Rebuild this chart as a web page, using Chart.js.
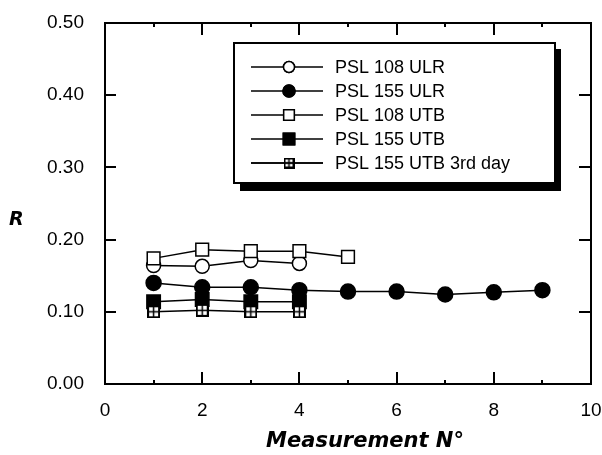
<!DOCTYPE html>
<html>
<head>
<meta charset="utf-8">
<script src="https://cdn.jsdelivr.net/npm/chart.js@4"></script>
<style>
  html, body { margin: 0; padding: 0; background: #fff; }
  #wrap { width: 602px; height: 455px; }
</style>
</head>
<body>
<div id="wrap"><canvas id="rChart" width="602" height="455"></canvas></div>
<script>
// measurement numbers for each series
const runs4 = [1, 2, 3, 4];
const runs5 = [1, 2, 3, 4, 5];
const runs9 = [1, 2, 3, 4, 5, 6, 7, 8, 9];

// R values
const ulr108 = [0.164, 0.163, 0.171, 0.167];
const ulr155 = [0.140, 0.134, 0.134, 0.130, 0.128, 0.128, 0.124, 0.127, 0.130];
const utb108 = [0.174, 0.186, 0.184, 0.184, 0.176];
const utb155 = [0.114, 0.117, 0.114, 0.114];
const utb155day3 = [0.100, 0.102, 0.100, 0.100];

const seriesLabels = ['PSL 108 ULR', 'PSL 155 ULR', 'PSL 108 UTB', 'PSL 155 UTB', 'PSL 155 UTB 3rd day'];
const xTicks = [0, 2, 4, 6, 8, 10];
const yTicks = [0, 0.1, 0.2, 0.3, 0.4, 0.5];
const xTitle = 'Measurement N°';
const yTitle = 'R';

const FONT = '"Liberation Sans", Arial, sans-serif';
const TITLE_FONT = '"DejaVu Sans", sans-serif';

function crossSquare(size) {
  const c = document.createElement('canvas');
  c.width = size; c.height = size;
  const g = c.getContext('2d');
  g.fillStyle = '#fff';
  g.fillRect(0, 0, size, size);
  g.strokeStyle = '#000';
  g.lineWidth = 2;
  g.strokeRect(1, 1, size - 2, size - 2);
  g.lineWidth = 1.5;
  g.beginPath();
  g.moveTo(size / 2, 0); g.lineTo(size / 2, size);
  g.moveTo(0, size / 2); g.lineTo(size, size / 2);
  g.stroke();
  return c;
}

function pts(xs, ys) {
  return xs.map((x, i) => ({ x: x, y: ys[i] }));
}

function series(i, xs, ys, style, fill, radius) {
  return {
    label: seriesLabels[i],
    data: pts(xs, ys),
    showLine: true,
    borderColor: '#000',
    borderWidth: 1.5,
    pointStyle: style,
    pointRadius: radius,
    pointBorderWidth: 1.5,
    pointBorderColor: '#000',
    pointBackgroundColor: fill,
    order: 5 - i,
  };
}

const legendMarks = [
  { style: 'circle', fill: '#fff', r: 5.5 },
  { style: 'circle', fill: '#000', r: 6 },
  { style: 'rect', fill: '#fff', r: 7.5 },
  { style: 'rect', fill: '#000', r: 8 },
  { style: crossSquare(11), fill: '#fff', r: 6 },
];

const framePlugin = {
  id: 'frame',
  afterDraw(chart) {
    const ctx = chart.ctx;
    const a = chart.chartArea;
    const xs = chart.scales.x;
    const ys = chart.scales.y;
    ctx.save();
    ctx.strokeStyle = '#000';
    ctx.lineWidth = 2;
    ctx.strokeRect(a.left, a.top, a.right - a.left, a.bottom - a.top);

    // inward ticks
    ctx.beginPath();
    xs.ticks.forEach((t) => {
      const px = Math.round(xs.getPixelForValue(t.value));
      const len = t.value % 2 === 0 ? 12 : 4;
      ctx.moveTo(px, a.bottom); ctx.lineTo(px, a.bottom - len);
      ctx.moveTo(px, a.top); ctx.lineTo(px, a.top + len);
    });
    ys.ticks.forEach((t) => {
      const py = Math.round(ys.getPixelForValue(t.value));
      ctx.moveTo(a.left, py); ctx.lineTo(a.left + 11, py);
      ctx.moveTo(a.right, py); ctx.lineTo(a.right - 12, py);
    });
    ctx.stroke();

    // axis titles
    ctx.fillStyle = '#000';
    ctx.textBaseline = 'alphabetic';
    ctx.textAlign = 'left';
    ctx.font = 'italic bold 19px ' + TITLE_FONT;
    ctx.fillText(yTitle, 9, 225);
    ctx.textAlign = 'center';
    ctx.font = 'italic bold 21px ' + TITLE_FONT;
    ctx.fillText(xTitle, 365, 447);

    // legend box with shadow
    const bx = 234, by = 43, bw = 321, bh = 140;
    ctx.fillStyle = '#000';
    ctx.fillRect(bx + 6, by + 6, bw, bh + 2);
    ctx.fillStyle = '#fff';
    ctx.fillRect(bx, by, bw, bh);
    ctx.lineWidth = 2;
    ctx.strokeRect(bx, by, bw, bh);

    ctx.font = '18px ' + FONT;
    ctx.textAlign = 'left';
    ctx.textBaseline = 'middle';
    chart.data.datasets.forEach((ds, i) => {
      const y = 67 + i * 24;
      ctx.lineWidth = 1.5;
      ctx.strokeStyle = '#000';
      ctx.beginPath();
      ctx.moveTo(251, y); ctx.lineTo(323, y);
      ctx.stroke();
      const m = legendMarks[i];
      ctx.fillStyle = m.fill;
      Chart.helpers.drawPoint(ctx, { pointStyle: m.style, radius: m.r, borderWidth: 1.5, rotation: 0 }, 289, y);
      ctx.fill();
      ctx.stroke();
      ctx.fillStyle = '#000';
      ctx.fillText(ds.label, 335, y + 1);
    });
    ctx.restore();
  },
};

new Chart(document.getElementById('rChart'), {
  type: 'scatter',
  data: {
    datasets: [
      series(0, runs4, ulr108, 'circle', '#fff', 7),
      series(1, runs9, ulr155, 'circle', '#000', 7.5),
      series(2, runs5, utb108, 'rect', '#fff', 9),
      series(3, runs4, utb155, 'rect', '#000', 9.5),
      series(4, runs4, utb155day3, crossSquare(13), '#fff', 7),
    ],
  },
  options: {
    responsive: false,
    animation: false,
    layout: { padding: { left: 0, top: 23, right: 10, bottom: 0 } },
    plugins: { legend: { display: false }, tooltip: { enabled: false } },
    scales: {
      x: {
        type: 'linear',
        min: xTicks[0],
        max: xTicks[xTicks.length - 1],
        grid: { display: false, drawTicks: false },
        border: { display: false },
        ticks: {
          stepSize: 1,
          autoSkip: false,
          maxRotation: 0,
          padding: 15,
          color: '#000',
          font: { family: FONT, size: 19 },
          callback: (v) => (xTicks.includes(v) ? String(v) : ''),
        },
        afterFit: (s) => { s.height = 71; s.paddingLeft = 0; s.paddingRight = 0; },
      },
      y: {
        min: yTicks[0],
        max: yTicks[yTicks.length - 1],
        grid: { display: false, drawTicks: false },
        border: { display: false },
        ticks: {
          stepSize: 0.1,
          padding: 21,
          color: '#000',
          font: { family: FONT, size: 19 },
          callback: (v) => v.toFixed(2),
        },
        afterFit: (s) => { s.width = 105; s.paddingTop = 0; s.paddingBottom = 0; },
      },
    },
  },
  plugins: [framePlugin],
});
</script>
</body>
</html>
